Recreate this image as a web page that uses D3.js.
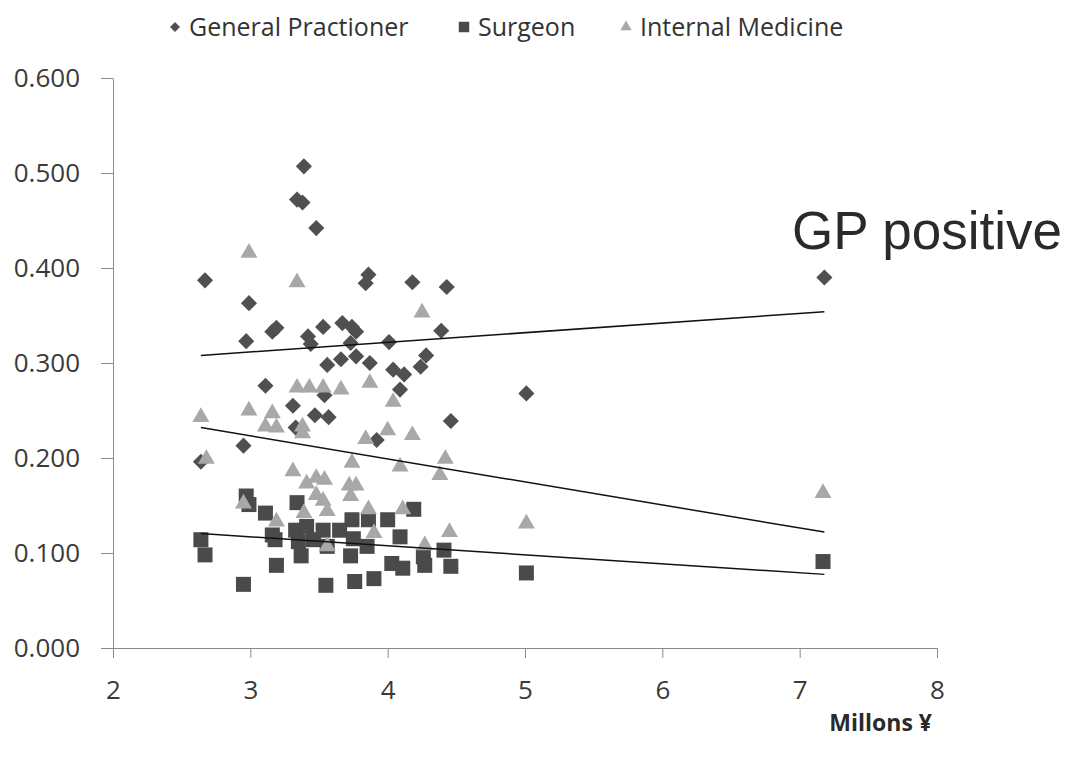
<!DOCTYPE html>
<html>
<head>
<meta charset="utf-8">
<script src="https://cdn.jsdelivr.net/npm/d3@7"></script>
<style>
  body { margin: 0; background: #fff; }
  .ejes text { font-family: 'Open Sans', sans-serif; font-size: 26px; fill: #3a3a3a; }
  .ejes path, .ejes line { stroke: #8a8a8a; stroke-width: 1; }
</style>
</head>
<body>
<div id="graf"></div>
<script>
// datos: [millones de yenes, valor]
const generalPractioner = [
  [2.64, 0.196], [2.67, 0.387], [2.95, 0.213], [2.97, 0.323], [2.99, 0.363],
  [3.11, 0.276], [3.16, 0.333], [3.19, 0.337], [3.31, 0.255], [3.33, 0.232],
  [3.34, 0.472], [3.38, 0.469], [3.39, 0.507], [3.42, 0.328], [3.44, 0.320],
  [3.47, 0.245], [3.48, 0.442], [3.53, 0.338], [3.54, 0.266], [3.56, 0.298],
  [3.57, 0.243], [3.66, 0.304], [3.67, 0.342], [3.73, 0.321], [3.74, 0.338],
  [3.77, 0.333], [3.77, 0.307], [3.84, 0.384], [3.86, 0.393], [3.87, 0.300],
  [3.92, 0.219], [4.01, 0.322], [4.04, 0.293], [4.09, 0.272], [4.12, 0.288],
  [4.18, 0.385], [4.24, 0.296], [4.28, 0.308], [4.39, 0.334], [4.43, 0.380],
  [4.46, 0.239], [5.01, 0.268], [7.18, 0.390],
]

const surgeon = [
  [2.64, 0.114], [2.67, 0.098], [2.95, 0.067], [2.97, 0.160], [2.99, 0.151],
  [3.11, 0.142], [3.16, 0.119], [3.18, 0.114], [3.19, 0.087], [3.33, 0.124],
  [3.34, 0.153], [3.35, 0.112], [3.37, 0.097], [3.41, 0.128], [3.46, 0.114],
  [3.53, 0.124], [3.55, 0.066], [3.56, 0.107], [3.65, 0.124], [3.73, 0.097],
  [3.74, 0.135], [3.75, 0.115], [3.76, 0.070], [3.85, 0.107], [3.86, 0.135],
  [3.90, 0.073], [4.00, 0.135], [4.03, 0.089], [4.09, 0.117], [4.11, 0.084],
  [4.19, 0.146], [4.26, 0.096], [4.27, 0.087], [4.41, 0.103], [4.46, 0.086],
  [5.01, 0.079], [7.17, 0.091],
]

const internalMedicine = [
  [2.64, 0.243], [2.68, 0.199], [2.95, 0.152], [2.99, 0.416], [2.99, 0.250],
  [3.11, 0.233], [3.16, 0.247], [3.19, 0.232], [3.19, 0.133], [3.31, 0.186],
  [3.34, 0.385], [3.34, 0.274], [3.38, 0.233], [3.38, 0.226], [3.39, 0.142],
  [3.41, 0.173], [3.43, 0.274], [3.48, 0.179], [3.48, 0.161], [3.53, 0.274],
  [3.54, 0.177], [3.53, 0.155], [3.56, 0.144], [3.56, 0.107], [3.66, 0.272],
  [3.72, 0.171], [3.77, 0.171], [3.73, 0.160], [3.74, 0.195], [3.84, 0.220],
  [3.86, 0.146], [3.87, 0.279], [3.90, 0.121], [4.00, 0.229], [4.04, 0.259],
  [4.09, 0.191], [4.11, 0.146], [4.18, 0.224], [4.25, 0.353], [4.27, 0.108],
  [4.38, 0.182], [4.42, 0.199], [4.45, 0.122], [5.01, 0.131], [7.17, 0.163],
]

// lineas de tendencia: [x inicio, y inicio, x fin, y fin]
const trendGP = [2.64, 0.308, 7.18, 0.354]
const trendSurgeon = [2.64, 0.1205, 7.18, 0.0775]
const trendIM = [2.64, 0.232, 7.18, 0.122]

const xTicks = [2, 3, 4, 5, 6, 7, 8]
const yTicks = [0, 0.1, 0.2, 0.3, 0.4, 0.5, 0.6]
const legendLabels = ['General Practioner', 'Surgeon', 'Internal Medicine']
const xTitle = 'Millons ¥'
const nota = 'GP positive'

const anchoTotal = 1070
const altoTotal = 763

const svg = d3.select('#graf')
  .append('svg')
  .attr('width', anchoTotal)
  .attr('height', altoTotal)

const margin = { top: 78, left: 113, right: 133, bottom: 115 }
const ancho = anchoTotal - margin.left - margin.right
const alto = altoTotal - margin.top - margin.bottom

const g = svg.append('g')
  .attr('transform', `translate(${margin.left}, ${margin.top})`)

const x = d3.scaleLinear().domain([2, 8]).range([0, ancho])
const y = d3.scaleLinear().domain([0, 0.6]).range([alto, 0])

// ejes
g.append('g')
  .attr('class', 'ejes')
  .call(d3.axisLeft(y)
    .tickValues(yTicks)
    .tickFormat(d3.format('.3f'))
    .tickSize(12)
    .tickSizeOuter(0)
    .tickPadding(21))

g.append('g')
  .attr('class', 'ejes')
  .attr('transform', `translate(0, ${alto})`)
  .call(d3.axisBottom(x)
    .tickValues(xTicks)
    .tickFormat(d3.format('d'))
    .tickSize(10)
    .tickSizeOuter(0)
    .tickPadding(23))

const series = [
  { name: 'gp', data: generalPractioner, color: '#505050', shape: 'diamond' },
  { name: 'su', data: surgeon, color: '#4a4a4a', shape: 'square' },
  { name: 'im', data: internalMedicine, color: '#a8a8a8', shape: 'triangle' },
]

const simbolo = (shape, big) => {
  if (shape === 'diamond') return d3.symbol(d3.symbolSquare, big ? 130 : 50)()
  if (shape === 'square') return d3.symbol(d3.symbolSquare, big ? 225 : 110)()
  return d3.symbol(d3.symbolTriangle, big ? 125 : 55)()
}

series.forEach(s => {
  g.append('g')
    .selectAll('path')
    .data(s.data)
    .enter()
    .append('path')
      .attr('d', simbolo(s.shape, true))
      .attr('transform', d => `translate(${x(d[0])}, ${y(d[1])})${s.shape === 'diamond' ? ' rotate(45)' : ''}`)
      .attr('fill', s.color)
})

// tendencias
g.selectAll('.tendencia')
  .data([trendGP, trendSurgeon, trendIM])
  .enter()
  .append('line')
    .attr('class', 'tendencia')
    .attr('x1', d => x(d[0]))
    .attr('y1', d => y(d[1]))
    .attr('x2', d => x(d[2]))
    .attr('y2', d => y(d[3]))
    .attr('stroke', '#111')
    .attr('stroke-width', 1.5)

// leyenda
const legendX = [175, 464, 626]
const leyenda = svg.append('g')
  .selectAll('g')
  .data(legendLabels)
  .enter()
  .append('g')
    .attr('transform', (d, i) => `translate(${legendX[i]}, 27)`)

leyenda.append('path')
  .attr('d', (d, i) => simbolo(series[i].shape, false))
  .attr('transform', (d, i) => series[i].shape === 'diamond' ? 'rotate(45)' : '')
  .attr('fill', (d, i) => series[i].color)

leyenda.append('text')
  .attr('x', 14)
  .attr('y', 9)
  .attr('font-family', 'Open Sans, sans-serif')
  .attr('font-size', 25)
  .attr('fill', '#333')
  .text(d => d)

svg.append('text')
  .attr('x', 932)
  .attr('y', 731)
  .attr('text-anchor', 'end')
  .attr('font-family', 'Open Sans, sans-serif')
  .attr('font-weight', 'bold')
  .attr('font-size', 23)
  .attr('fill', '#2a2a2a')
  .text(xTitle)

svg.append('text')
  .attr('x', 792)
  .attr('y', 249)
  .attr('font-family', 'Liberation Sans, Arial, sans-serif')
  .attr('font-size', 53)
  .attr('fill', '#2a2a2a')
  .text(nota)
</script>
</body>
</html>
